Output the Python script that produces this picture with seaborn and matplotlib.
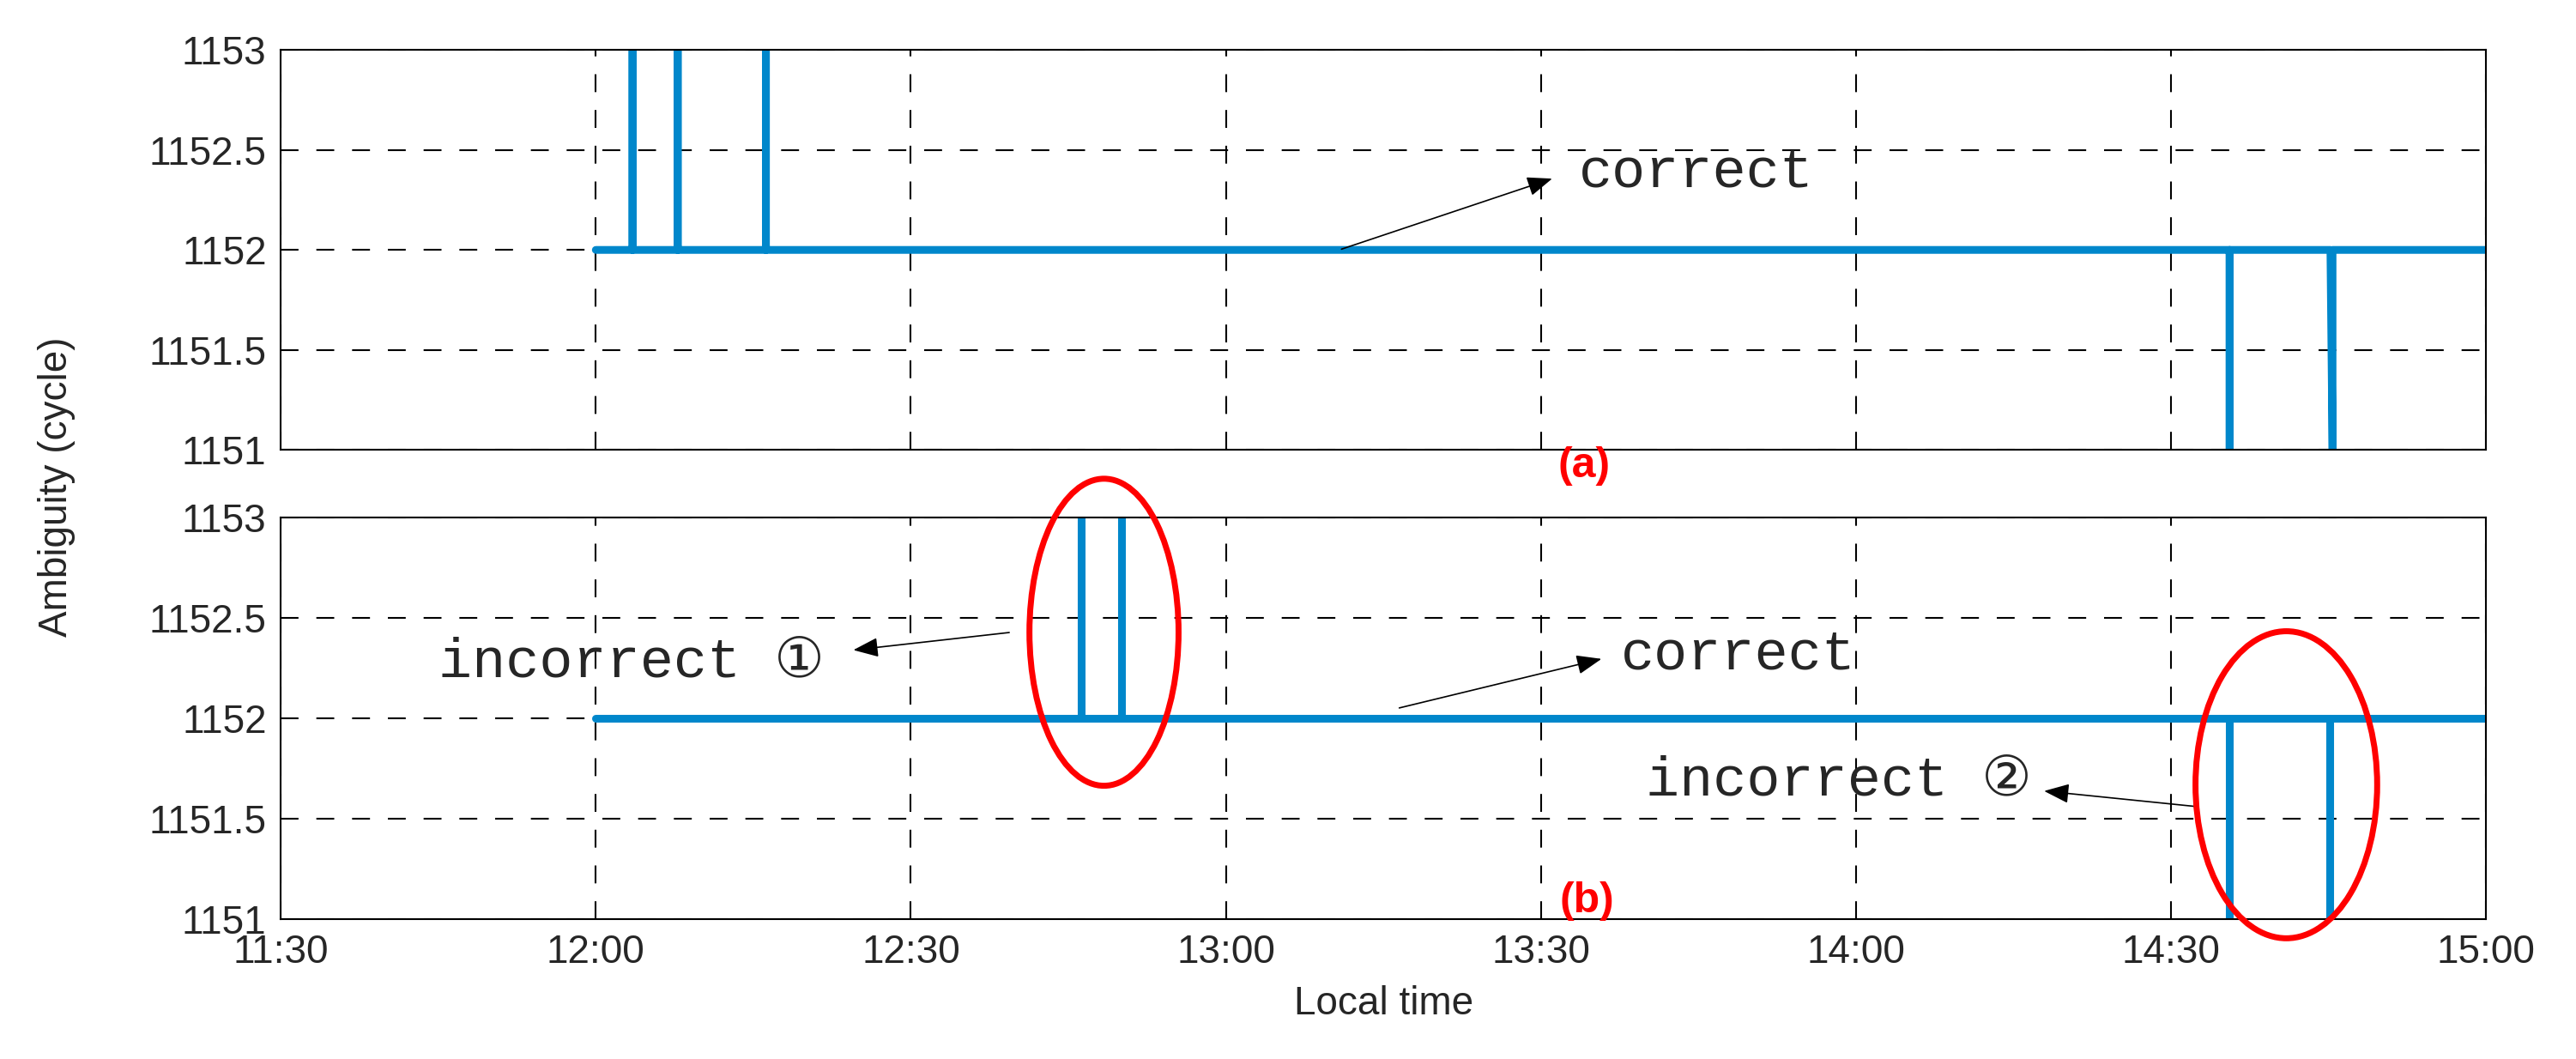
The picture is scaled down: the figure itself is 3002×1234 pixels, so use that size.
import matplotlib
matplotlib.use("Agg")
import matplotlib.pyplot as plt
import seaborn as sns
import pandas as pd
from matplotlib.patches import Ellipse

# time in minutes after midnight, ambiguity in cycles
top_time = [720, 723.5, 723.5, 723.5, 727.8, 727.8, 727.8, 736.2, 736.2, 736.2,
            875.6, 875.6, 875.6, 885.2, 885.4, 885.4, 900]
top_amb = [1152, 1152, 1153, 1152, 1152, 1153, 1152, 1152, 1153, 1152,
           1152, 1151, 1152, 1152, 1151, 1152, 1152]
bot_time = [720, 766.2, 766.2, 766.2, 770.1, 770.1, 770.1,
            875.6, 875.6, 875.6, 885.1, 885.1, 885.1, 900]
bot_amb = [1152, 1152, 1153, 1152, 1152, 1153, 1152,
           1152, 1151, 1152, 1152, 1151, 1152, 1152]
xticks = [690, 720, 750, 780, 810, 840, 870, 900]
xticklabels = ["11:30", "12:00", "12:30", "13:00", "13:30", "14:00", "14:30", "15:00"]
yticks = [1151, 1151.5, 1152, 1152.5, 1153]
yticklabels = ["1151", "1151.5", "1152", "1152.5", "1153"]

sns.set_style("white")
plt.rcParams['font.family'] = ['Liberation Sans', 'DejaVu Sans']
fig = plt.figure(figsize=(30.02, 12.34), dpi=100)
ax1 = fig.add_axes([0.109, 0.575, 0.856, 0.378])
ax2 = fig.add_axes([0.109, 0.132, 0.856, 0.379])
blue = "#0087CB"
FS = 33
for ax, t, v in ((ax1, top_time, top_amb), (ax2, bot_time, bot_amb)):
    df = pd.DataFrame({"t": t, "v": v, "i": range(len(t))})
    sns.lineplot(data=df, x="t", y="v", sort=False, estimator=None, ax=ax,
                 color=blue, lw=6.5, solid_capstyle="round")
    ax.set_xlim(690, 900)
    ax.set_ylim(1151, 1153)
    ax.set_yticks(yticks)
    ax.set_yticklabels(yticklabels, fontsize=FS)
    ax.set_xticks(xticks)
    ax.grid(True, color="black", ls=(0, (10, 10)), lw=1.5)
    ax.set_xlabel("")
    ax.set_ylabel("")
    for s in ax.spines.values():
        s.set_color("black"); s.set_linewidth(1.5)
    ax.tick_params(direction="in", length=6, color="black", pad=12)
ax1.set_xticklabels([])
ax2.set_xticklabels(xticklabels, fontsize=FS)
ax2.set_xlabel("Local time", fontsize=FS, labelpad=12)
fig.text(0.022, 0.54, "Ambiguity (cycle)", rotation=90, fontsize=FS, va="center", ha="center")

mono = dict(family=["Liberation Mono", "DejaVu Sans"], fontsize=47, va="center")
ap = dict(arrowstyle="-|>,head_length=1.8,head_width=0.7", color="black", lw=1.2)
ax1.annotate("", xy=(811.3, 1152.36), xytext=(790.8, 1152.0), arrowprops=ap)
ax1.text(813.6, 1152.39, "correct", **mono)
ax1.text(814.1, 1150.92, "(a)", color="red", fontsize=36, fontweight="bold", ha="center", va="center")

ax2.annotate("", xy=(744.3, 1152.34), xytext=(759.6, 1152.43), arrowprops=ap)
ax2.text(705, 1152.28, "incorrect ①", **mono)
ax2.annotate("", xy=(816, 1152.30), xytext=(796.3, 1152.05), arrowprops=ap)
ax2.text(817.6, 1152.32, "correct", **mono)
ax2.annotate("", xy=(857.7, 1151.64), xytext=(872.7, 1151.56), arrowprops=ap)
ax2.text(820, 1151.69, "incorrect ②", **mono)
ax2.text(814.4, 1151.09, "(b)", color="red", fontsize=36, fontweight="bold", ha="center", va="center")
for cx, cy, w in ((768.4, 1152.43, 14.2), (881, 1151.67, 17.3)):
    ax2.add_patch(Ellipse((cx, cy), w, 1.53, fill=False, ec="red", lw=5, clip_on=False, zorder=5))

fig.savefig("out.png", dpi=100)
